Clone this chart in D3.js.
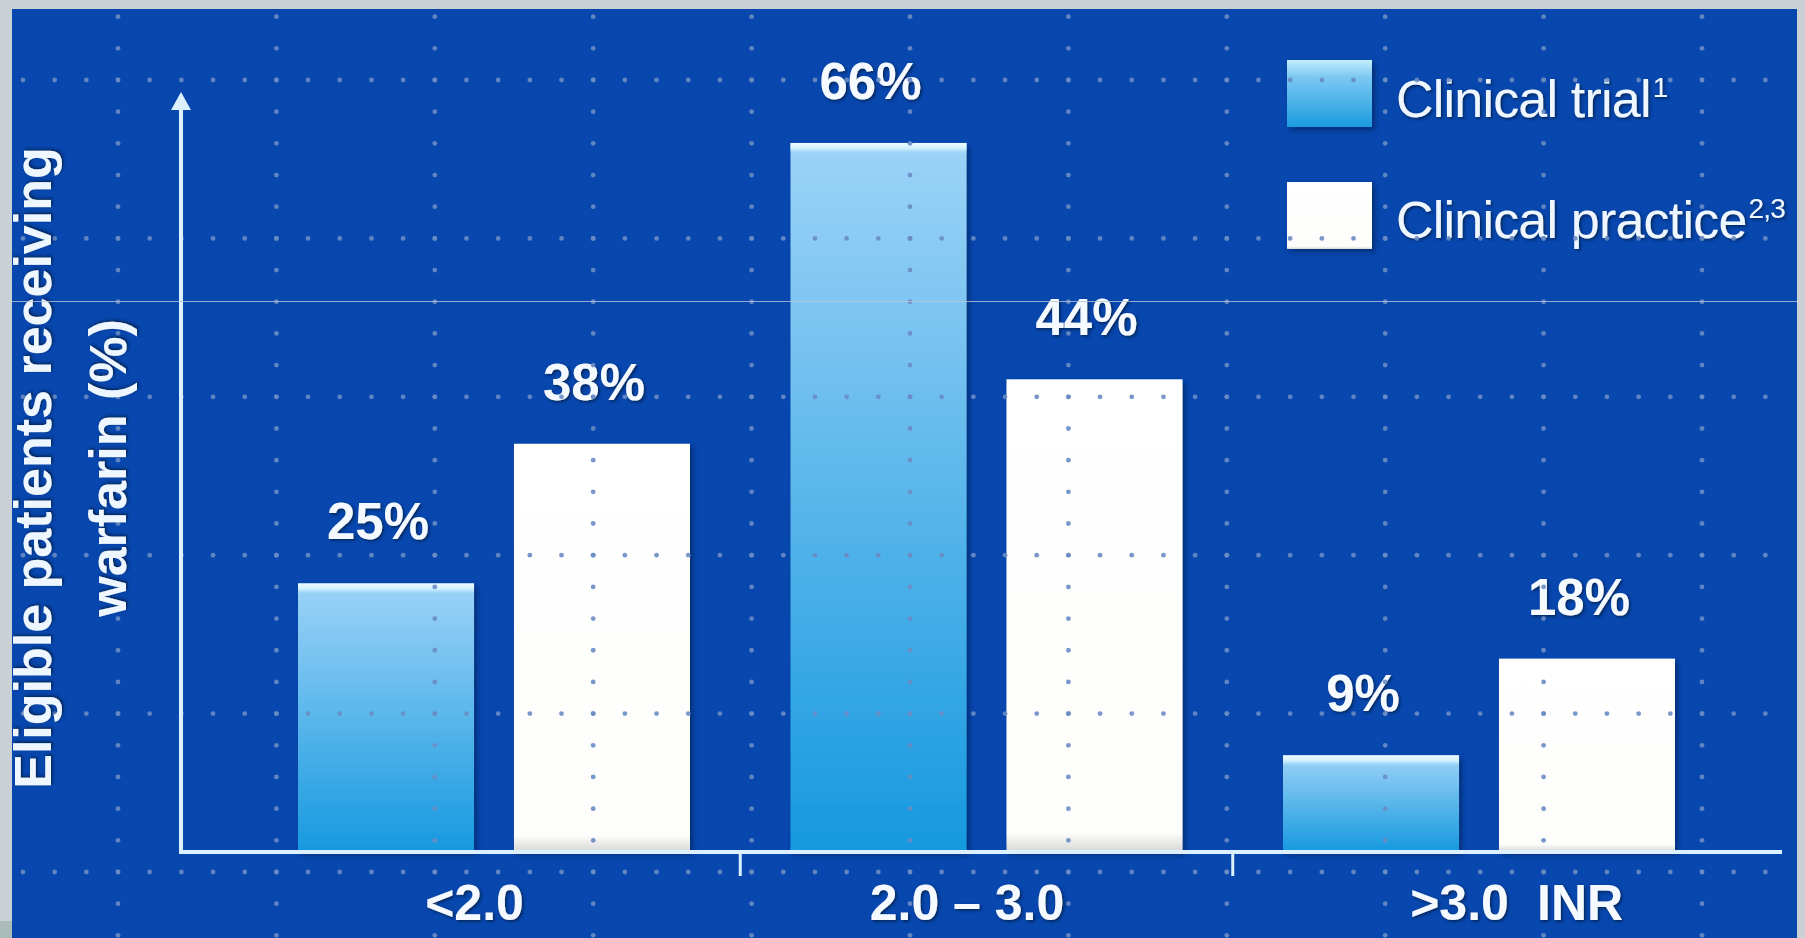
<!DOCTYPE html>
<html>
<head>
<meta charset="utf-8">
<script src="https://cdn.jsdelivr.net/npm/d3@7"></script>
<style>
    html, body { margin: 0; padding: 0; background: #c9d1d6; }
    svg { display: block; font-family: "Liberation Sans", Arial, sans-serif; }
</style>
</head>
<body>
<svg id="chart"></svg>
<script>
// chart values
const categories = ["<2.0", "2.0 – 3.0", ">3.0"];
const seriesNames = ["Clinical trial", "Clinical practice"];
const seriesNotes = ["1", "2,3"];
const clinicalTrial = [25, 66, 9];
const clinicalPractice = [38, 44, 18];
const yTitle = ["Eligible patients receiving", "warfarin (%)"];
const xUnit = "INR";

const width = 1805, height = 938;
const frame = { left: 12, top: 9, right: 1797 };
const origin = { x: 181, y: 852 };
const axisEnd = 1782;

const rows = categories.map((c, i) => ({
    category: c,
    values: [
        { series: seriesNames[0], value: clinicalTrial[i] },
        { series: seriesNames[1], value: clinicalPractice[i] }
    ]
}));

const svg = d3.select("#chart")
    .attr("width", width)
    .attr("height", height);

const defs = svg.append("defs");

// bar fills
const gTrial = defs.append("linearGradient").attr("id", "gTrial")
    .attr("x1", 0).attr("y1", 0).attr("x2", 0).attr("y2", 1);
gTrial.append("stop").attr("offset", 0).attr("stop-color", "#9dd3f7");
gTrial.append("stop").attr("offset", 1).attr("stop-color", "#1699df");

const gHi = defs.append("linearGradient").attr("id", "gHi")
    .attr("x1", 0).attr("y1", 0).attr("x2", 0).attr("y2", 1);
gHi.append("stop").attr("offset", 0).attr("stop-color", "#ecfcff").attr("stop-opacity", 1);
gHi.append("stop").attr("offset", 0.5).attr("stop-color", "#d8f4ff").attr("stop-opacity", 0.9);
gHi.append("stop").attr("offset", 1).attr("stop-color", "#a6dbf8").attr("stop-opacity", 0);

const gPractice = defs.append("linearGradient").attr("id", "gPractice")
    .attr("x1", 0).attr("y1", 0).attr("x2", 0).attr("y2", 1);
gPractice.append("stop").attr("offset", 0).attr("stop-color", "#ffffff");
gPractice.append("stop").attr("offset", 0.96).attr("stop-color", "#fdfdfb");
gPractice.append("stop").attr("offset", 1).attr("stop-color", "#d6d8d6");

const gLegTrial = defs.append("linearGradient").attr("id", "gLegTrial")
    .attr("x1", 0).attr("y1", 0).attr("x2", 0).attr("y2", 1);
gLegTrial.append("stop").attr("offset", 0).attr("stop-color", "#c4eefc");
gLegTrial.append("stop").attr("offset", 0.25).attr("stop-color", "#7cc8f2");
gLegTrial.append("stop").attr("offset", 1).attr("stop-color", "#1c9be0");

const txtShadow = defs.append("filter").attr("id", "txtShadow")
    .attr("x", "-10%").attr("y", "-20%").attr("width", "130%").attr("height", "150%");
txtShadow.append("feDropShadow")
    .attr("dx", 1.5).attr("dy", 1.5).attr("stdDeviation", 1.5)
    .attr("flood-color", "#011a4a").attr("flood-opacity", 0.85);

const barShadow = defs.append("filter").attr("id", "barShadow")
    .attr("x", "-10%").attr("y", "-10%").attr("width", "125%").attr("height", "125%");
barShadow.append("feDropShadow")
    .attr("dx", 3).attr("dy", 3).attr("stdDeviation", 2.5)
    .attr("flood-color", "#001a55").attr("flood-opacity", 0.6);

// background
svg.append("rect")
    .attr("x", frame.left).attr("y", frame.top)
    .attr("width", frame.right - frame.left).attr("height", height - frame.top)
    .attr("fill", "#0747ae");

// scales
const x0 = d3.scalePoint()
    .domain(categories)
    .range([494, 1479]);

const x1 = d3.scaleBand()
    .domain(seriesNames)
    .range([-196, 196])
    .paddingInner(0.185);

const y = d3.scaleLinear()
    .domain([0, 70])
    .range([origin.y, 100]);

// bars
const groups = svg.append("g").attr("class", "bars")
    .selectAll("g")
    .data(rows)
    .join("g")
    .attr("transform", (d) => `translate(${x0(d.category)}, 0)`);

groups.selectAll("rect.bar")
    .data((d) => d.values)
    .join("rect")
    .attr("class", "bar")
    .attr("x", (d) => x1(d.series))
    .attr("y", (d) => y(d.value))
    .attr("width", x1.bandwidth())
    .attr("height", (d) => y(0) - y(d.value))
    .attr("fill", (d) => d.series === seriesNames[0] ? "url(#gTrial)" : "url(#gPractice)")
    .attr("filter", "url(#barShadow)");

groups.selectAll("rect.hi")
    .data((d) => d.values.filter((v) => v.series === seriesNames[0]))
    .join("rect")
    .attr("class", "hi")
    .attr("x", (d) => x1(d.series))
    .attr("y", (d) => y(d.value))
    .attr("width", x1.bandwidth())
    .attr("height", 11)
    .attr("fill", "url(#gHi)");

// legend boxes
const legend = svg.append("g").attr("class", "legend");
const legendRows = [
    { name: seriesNames[0], note: seriesNotes[0], fill: "url(#gLegTrial)", boxY: 60, textY: 117 },
    { name: seriesNames[1], note: seriesNotes[1], fill: "url(#gPractice)", boxY: 182, textY: 238 }
];
legend.selectAll("rect")
    .data(legendRows)
    .join("rect")
    .attr("x", 1287)
    .attr("y", (d) => d.boxY)
    .attr("width", 85)
    .attr("height", 67)
    .attr("fill", (d) => d.fill)
    .attr("filter", "url(#barShadow)");

// dotted texture over the slide
const step = 158.4, dotStep = step / 5;
const rowsY = d3.range(80, height, step);
const colsX = d3.range(118, frame.right, step);
const dots = [];
rowsY.forEach((ry) => {
    d3.range(118 % dotStep, frame.right, dotStep).forEach((dx) => {
        if (dx > frame.left + 2) dots.push([dx, ry]);
    });
});
colsX.forEach((cx) => {
    d3.range(80 % dotStep, height, dotStep).forEach((dy) => {
        if (dy > frame.top + 2) dots.push([cx, dy]);
    });
});
svg.append("g").attr("class", "dots")
    .selectAll("circle")
    .data(dots)
    .join("circle")
    .attr("cx", (d) => d[0])
    .attr("cy", (d) => d[1])
    .attr("r", 2.4)
    .attr("fill", "#6a8cc4")
    .attr("fill-opacity", 0.9);

// axes
const axisColor = "#dcf0fd";
svg.append("line")
    .attr("x1", origin.x).attr("x2", origin.x)
    .attr("y1", origin.y + 2).attr("y2", y.range()[1] + 8)
    .attr("stroke", axisColor).attr("stroke-width", 4);
svg.append("path")
    .attr("d", `M${origin.x},${y.range()[1] - 8} L${origin.x - 10},${y.range()[1] + 10} L${origin.x + 10},${y.range()[1] + 10} Z`)
    .attr("fill", axisColor);
svg.append("line")
    .attr("x1", origin.x - 2).attr("x2", axisEnd)
    .attr("y1", origin.y).attr("y2", origin.y)
    .attr("stroke", axisColor).attr("stroke-width", 4);

svg.append("g").selectAll("line")
    .data(d3.pairs(categories).map(([a, b]) => (x0(a) + x0(b)) / 2))
    .join("line")
    .attr("x1", (d) => d).attr("x2", (d) => d)
    .attr("y1", origin.y).attr("y2", origin.y + 24)
    .attr("stroke", axisColor).attr("stroke-width", 3);

const xAxis = d3.axisBottom(x0).tickSize(0);
const xAxisGroup = svg.append("g")
    .attr("transform", `translate(0, ${origin.y})`)
    .call(xAxis);
xAxisGroup.select(".domain").remove();
xAxisGroup.selectAll("text")
    .attr("y", 68)
    .attr("dy", 0)
    .attr("dx", -20)
    .attr("fill", "#f4faff")
    .attr("font-size", 50)
    .attr("font-weight", "bold")
    .attr("font-family", "\"Liberation Sans\", Arial, sans-serif")
    .attr("filter", "url(#txtShadow)");

svg.append("text")
    .attr("x", 1537).attr("y", origin.y + 68)
    .attr("fill", "#f4faff")
    .attr("font-size", 50)
    .attr("font-weight", "bold")
    .attr("filter", "url(#txtShadow)")
    .text(xUnit);

// value labels
groups.selectAll("text.value")
    .data((d) => d.values)
    .join("text")
    .attr("class", "value")
    .attr("x", (d) => x1(d.series) + x1.bandwidth() / 2 - 8)
    .attr("y", (d) => y(d.value) - 44)
    .attr("text-anchor", "middle")
    .attr("fill", "#f4faff")
    .attr("font-size", 51)
    .attr("font-weight", "bold")
    .attr("filter", "url(#txtShadow)")
    .text((d) => `${d.value}%`);

// y title
svg.append("g")
    .attr("transform", "translate(0, 468)")
    .selectAll("text")
    .data(yTitle)
    .join("text")
    .attr("transform", (d, i) => `translate(${i === 0 ? 51 : 126}, 0) rotate(-90)`)
    .attr("text-anchor", "middle")
    .attr("fill", "#eef7ff")
    .attr("font-size", 52)
    .attr("font-weight", "bold")
    .attr("filter", "url(#txtShadow)")
    .text((d) => d);

// legend labels
const legText = legend.selectAll("text")
    .data(legendRows)
    .join("text")
    .attr("x", 1396)
    .attr("y", (d) => d.textY)
    .attr("fill", "#eef7ff")
    .attr("font-size", 52)
    .attr("letter-spacing", -0.8)
    .attr("filter", "url(#txtShadow)");
legText.append("tspan").text((d) => d.name);
legText.append("tspan")
    .attr("font-size", 28)
    .attr("dy", -20)
    .attr("dx", 2)
    .text((d) => d.note);

// scan artefact line and frame
svg.append("line")
    .attr("x1", frame.left).attr("x2", width)
    .attr("y1", 301.5).attr("y2", 301.5)
    .attr("stroke", "#b9c6d6").attr("stroke-width", 1).attr("stroke-opacity", 0.8);

svg.append("rect").attr("x", frame.right).attr("y", 0)
    .attr("width", width - frame.right).attr("height", height).attr("fill", "#c9d1d6");
svg.append("rect").attr("x", 0).attr("y", 0)
    .attr("width", width).attr("height", frame.top).attr("fill", "#c9d1d6");
svg.append("rect").attr("x", 0).attr("y", 0)
    .attr("width", frame.left).attr("height", height).attr("fill", "#c9d1d6");
svg.append("rect").attr("x", 0).attr("y", 921)
    .attr("width", frame.left).attr("height", height - 921).attr("fill", "#a9bcba");
</script>
</body>
</html>
